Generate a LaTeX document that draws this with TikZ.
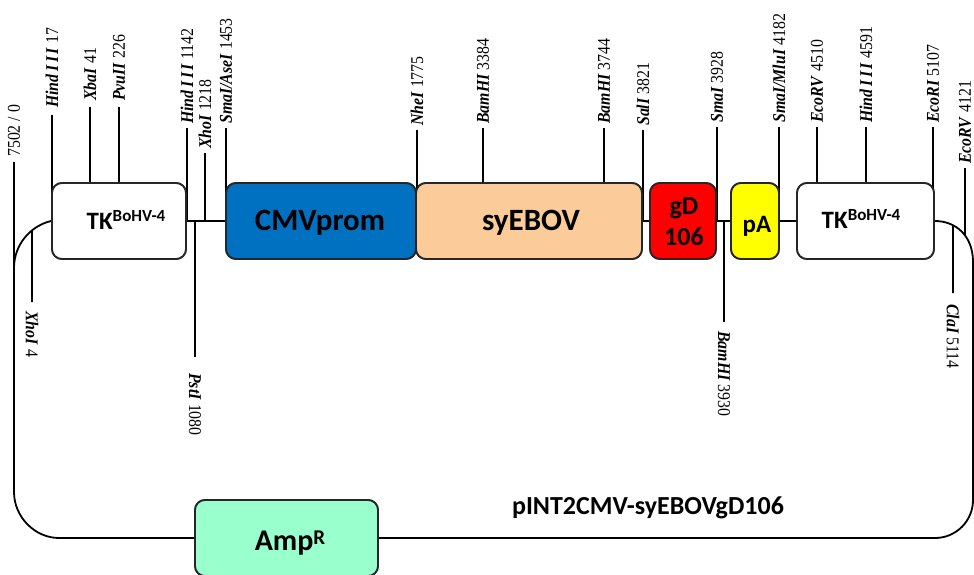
\documentclass[tikz,border=0pt]{standalone}
\usepackage{fontspec}
\usetikzlibrary{intersections}
\newfontfamily\calib{Carlito}
\newfontfamily\labfont[FakeStretch=0.88]{Liberation Serif}
\newcommand\enz[1]{\textbf{\textit{#1}}}
\newcommand\hindname{\enz{Hind\hspace{3pt}I\hspace{2.5pt}I\hspace{2.5pt}I}}
\definecolor{cmvblue}{RGB}{0,112,192}
\definecolor{ebovpeach}{RGB}{251,203,153}
\definecolor{gdred}{RGB}{255,0,0}
\definecolor{payellow}{RGB}{255,255,0}
\definecolor{ampgreen}{RGB}{153,255,204}
\definecolor{boxedge}{RGB}{38,38,38}
\newcommand\mkup[6]{%
  \coordinate (#1t) at (#2,#3);
  \coordinate (#1b) at (#2,#4);
  \draw[tickline] (#1b) -- (#1t);
  \node[labup] (#1) at (#2,#5) {#6};}
\newcommand\mkdn[6]{%
  \coordinate (#1t) at (#2,#3);
  \coordinate (#1b) at (#2,#4);
  \draw[tickline] (#1t) -- (#1b);
  \node[labdn] (#1) at (#2,#5) {#6};}
\begin{document}
\begin{tikzpicture}[x=1pt,y=-1pt,
  bb/.style={line width=1.8pt, black},
  tickline/.style={line width=1.8pt, black},
  gbox/.style={draw=boxedge, line width=1.8pt, rounded corners=10pt, inner sep=0pt,
    minimum height=76pt, align=center, font=\calib\bfseries},
  labup/.style={font=\labfont\fontsize{18}{18}\selectfont, inner sep=0pt, rotate=90, anchor=west},
  labdn/.style={font=\labfont\fontsize{18}{18}\selectfont, inner sep=0pt, rotate=-90, anchor=west},
]
\useasboundingbox (0,0) rectangle (974,575);
\clip (0,0) rectangle (974,575);

% boxes (positions)
\path
  node[gbox, fill=white, minimum width=134pt] (TKL) at (119,221) {}
  node[gbox, fill=cmvblue, minimum width=190pt] (CMV) at (321,221) {}
  node[gbox, fill=ebovpeach, minimum width=226pt] (EBOV) at (529,221) {}
  node[gbox, fill=gdred, minimum width=66pt] (GD) at (683,221) {}
  node[gbox, fill=payellow, minimum width=48pt] (PA) at (755,221) {}
  node[gbox, fill=white, minimum width=137pt] (TKR) at (865.5,221) {}
  node[gbox, fill=ampgreen, minimum width=183pt] (AMP) at (286.5,538) {};

% top ticks
\mkup{h17}{52}{115}{195}{108}{\hindname{} 17}
\mkup{x41}{90}{107}{195}{101}{\enz{XbaI} 41}
\mkup{p226}{119}{107}{195}{101}{\enz{PvuII} 226}
\mkup{h1142}{187}{128}{221}{124}{\hindname{} 1142}
\mkup{x1218}{205}{153}{221}{149}{\enz{XhoI} 1218}
\mkup{s1453}{226}{128}{200}{124}{\enz{SmaI/AseI} 1453}
\mkup{n1775}{417}{130}{200}{126}{\enz{NheI} 1775}
\mkup{b3384}{483}{128}{200}{124}{\enz{BamHI} 3384}
\mkup{b3744}{604}{128}{200}{124}{\enz{BamHI} 3744}
\mkup{s3821}{643}{130}{221}{126}{\enz{SalI} 3821}
\mkup{s3928}{717}{127}{221}{123}{\enz{SmaI} 3928}
\mkup{s4182}{779}{127}{200}{123}{\enz{SmaI/MluI} 4182}
\mkup{e4510}{817}{127}{200}{123}{\enz{EcoRV} 4510}
\mkup{h4591}{866}{127}{200}{123}{\hindname{} 4591}
\mkup{e5107}{933}{127}{200}{123}{\enz{EcoRI} 5107}
\node[labup] (n0) at (14,157) {7502 / 0};

% backbone
\draw[bb, name path=lcurve] (TKL.west) .. controls (30,226) and (14,245) .. (14,268);
\draw[bb] (14,162) -- (14,492) .. controls (14,517) and (35,538) .. (59,538) -- (AMP.west);
\draw[bb] (AMP.east) -- (935,538) .. controls (956,538) and (973,521) .. (973,500) -- (973,262);
\draw[bb, name path=rcurve] (973,262) .. controls (973,235) and (955,221) .. (TKR.east);

% connectors between elements
\draw[bb] (TKL.east) -- (CMV.west);
\draw[bb] (EBOV.east) -- (GD.west);
\draw[bb] (GD.east) -- (PA.west);
\draw[bb] (PA.east) -- (TKR.west);

% ticks meeting the curves
\path[name path=v32] (32,200) -- (32,320);
\path[name intersections={of=lcurve and v32, by=x4t}];
\draw[tickline] (x4t) -- (32,302) coordinate (x4b);
\node[labdn] (x4) at (32,311) {\enz{XhoI} 4};

\path[name path=v953] (953,200) -- (953,320);
\path[name intersections={of=rcurve and v953, by=c5114t}];
\draw[tickline] (c5114t) -- (953,293) coordinate (c5114b);
\node[labdn] (c5114) at (953,304) {\enz{ClaI} 5114};

\path[name path=v965] (965,150) -- (965,300);
\path[name intersections={of=rcurve and v965, by=e4121b}];
\draw[tickline] (965,168) coordinate (e4121t) -- (e4121b);
\node[labup] (e4121) at (965,164) {\enz{EcoRV} 4121};

% bottom ticks
\mkdn{p1080}{195}{221}{357}{373}{\enz{PstI} 1080}
\mkdn{b3930}{724}{221}{322}{331}{\enz{BamHI} 3930}

% boxes drawn on top
\path
  node[gbox, fill=white, minimum width=134pt] at (TKL) {}
  node[gbox, fill=cmvblue, minimum width=190pt] at (CMV) {}
  node[gbox, fill=ebovpeach, minimum width=226pt] at (EBOV) {}
  node[gbox, fill=gdred, minimum width=66pt] at (GD) {}
  node[gbox, fill=payellow, minimum width=48pt] at (PA) {}
  node[gbox, fill=white, minimum width=137pt] at (TKR) {}
  node[gbox, fill=ampgreen, minimum width=183pt] at (AMP) {};

% box texts
\node[font=\calib\bfseries\fontsize{25}{25}\selectfont, anchor=base, inner sep=0pt] (tklt) at (126,229)
  {TK\raisebox{8pt}{\fontsize{17}{17}\selectfont BoHV-4}};
\node[font=\calib\bfseries\fontsize{31}{31}\selectfont, anchor=base, inner sep=0pt] (cmvt) at (320,230) {CMVprom};
\node[font=\calib\bfseries\fontsize{31}{31}\selectfont, anchor=base, inner sep=0pt] (ebovt) at (531,230) {syEBOV};
\node[font=\calib\bfseries\fontsize{26}{31}\selectfont, align=center, inner sep=0pt] (gdt) at (684,222) {gD\\106};
\node[font=\calib\bfseries\fontsize{25}{25}\selectfont, anchor=base, inner sep=0pt] (pat) at (757,232) {pA};
\node[font=\calib\bfseries\fontsize{25}{25}\selectfont, anchor=base, inner sep=0pt] (tkrt) at (861,228)
  {TK\raisebox{8pt}{\fontsize{17}{17}\selectfont BoHV-4}};
\node[font=\calib\bfseries\fontsize{30}{30}\selectfont, anchor=base, inner sep=0pt] (ampt) at (290,550)
  {Amp\raisebox{6pt}{\fontsize{21}{21}\selectfont R}};
\node[font=\calib\bfseries\fontsize{26}{26}\selectfont, anchor=base, inner sep=0pt] (title) at (648,514) {pINT2CMV-syEBOVgD106};
\end{tikzpicture}
\end{document}
